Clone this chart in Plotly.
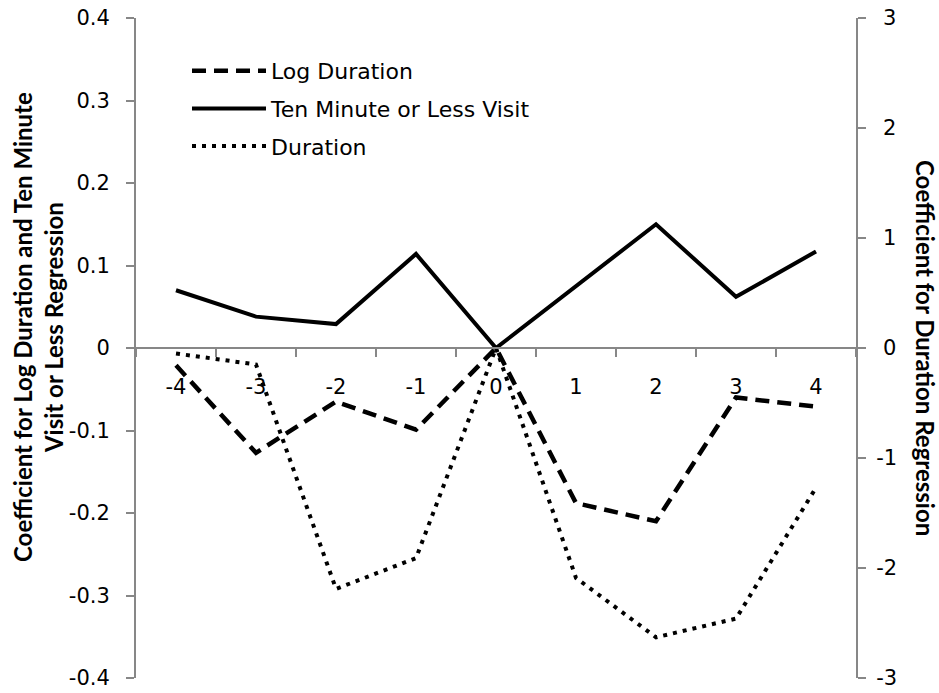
import plotly.graph_objects as go

periods = ["-4", "-3", "-2", "-1", "0", "1", "2", "3", "4"]
log_duration = [-0.021, -0.127, -0.065, -0.099, 0.0, -0.188, -0.210, -0.060, -0.071]
ten_minute = [0.070, 0.038, 0.029, 0.114, 0.0, 0.075, 0.150, 0.062, 0.117]
duration = [-0.05, -0.15, -2.19, -1.91, 0.0, -2.09, -2.63, -2.46, -1.27]

left_ticks = [-0.4, -0.3, -0.2, -0.1, 0, 0.1, 0.2, 0.3, 0.4]
left_labels = ["-0.4", "-0.3", "-0.2", "-0.1", "0", "0.1", "0.2", "0.3", "0.4"]
right_ticks = [-3, -2, -1, 0, 1, 2, 3]
right_labels = ["-3", "-2", "-1", "\u20040", "\u20041", "\u20042", "\u20043"]

AX = "#878787"
TICKFONT = dict(family="DejaVu Sans", size=21, color="black")

W, H = 939, 693
L, R, T, B = 136, 83, 18, 15
PW, PH = W - L - R, H - T - B

fig = go.Figure()
fig.add_trace(go.Scatter(x=periods, y=log_duration, name="Log Duration", mode="lines",
                         line=dict(color="black", width=4.5, dash="14px,8px"),
                         legendgroup="a", yaxis="y"))
fig.add_trace(go.Scatter(x=periods, y=ten_minute, name="Ten Minute or Less Visit", mode="lines",
                         line=dict(color="black", width=4), legendgroup="b", yaxis="y"))
fig.add_trace(go.Scatter(x=periods, y=duration, name="Duration", mode="lines",
                         line=dict(color="black", width=4, dash="4px,6px"),
                         legendgroup="c", yaxis="y2"))

fig.update_layout(
    width=W, height=H,
    margin=dict(l=L, r=R, t=T, b=B, autoexpand=False),
    plot_bgcolor="white", paper_bgcolor="white",
    showlegend=True,
    legend=dict(x=(187 - L) / PW, y=1 - (50 - T) / PH, xanchor="left", yanchor="top",
                traceorder="grouped", tracegroupgap=6, itemwidth=74,
                font=dict(family="DejaVu Sans", size=22, color="black"),
                bgcolor="rgba(0,0,0,0)"),
    xaxis=dict(type="category", categoryorder="array", categoryarray=periods,
               range=[-0.5, 8.5], anchor="free", position=0.5, automargin=False,
               showline=True, linecolor=AX, linewidth=2,
               ticks="outside", ticklen=8, tickcolor=AX, tickwidth=2,
               tickson="boundaries", showgrid=False, zeroline=False,
               tickfont=TICKFONT, ticklabelstandoff=20),
    yaxis=dict(range=[-0.4, 0.4], tickvals=left_ticks, ticktext=left_labels,
               automargin=False,
               showline=True, linecolor=AX, linewidth=2,
               ticks="outside", ticklen=8, tickcolor=AX, tickwidth=2,
               showgrid=False, zeroline=False, tickfont=TICKFONT,
               ticklabelstandoff=12),
    yaxis2=dict(range=[-3, 3], tickvals=right_ticks, ticktext=right_labels,
                overlaying="y", side="right", anchor="x", automargin=False,
                showline=True, linecolor=AX, linewidth=2,
                ticks="outside", ticklen=8, tickcolor=AX, tickwidth=2,
                showgrid=False, zeroline=False, tickfont=TICKFONT,
                ticklabelstandoff=6),
    annotations=[
        dict(text="<b>Coefficient for Log Duration and Ten Minute<br>Visit or Less Regression</b>",
             xref="paper", yref="paper", x=(38 - L) / PW, y=1 - (327 - T) / PH,
             xanchor="center", yanchor="middle", textangle=-90, showarrow=False,
             font=dict(family="Lato", size=24, color="black")),
        dict(text="<b>Coefficient for Duration Regression</b>",
             xref="paper", yref="paper", x=(926 - L) / PW, y=0.5,
             xanchor="center", yanchor="middle", textangle=90, showarrow=False,
             font=dict(family="Lato", size=24, color="black")),
    ],
)

page_css = (
    "document.documentElement.style.margin='0';"
    "document.documentElement.style.padding='0';"
    "document.documentElement.style.overflow='hidden';"
    "document.body.style.margin='0';"
    "document.body.style.padding='0';"
    "document.body.style.overflow='hidden';"
    "var p=document.getElementById('{plot_id}').parentElement;"
    "p.style.height='693px';p.style.overflow='hidden';"
)

fig.write_html("out.html", config={"displayModeBar": False}, post_script=page_css)
